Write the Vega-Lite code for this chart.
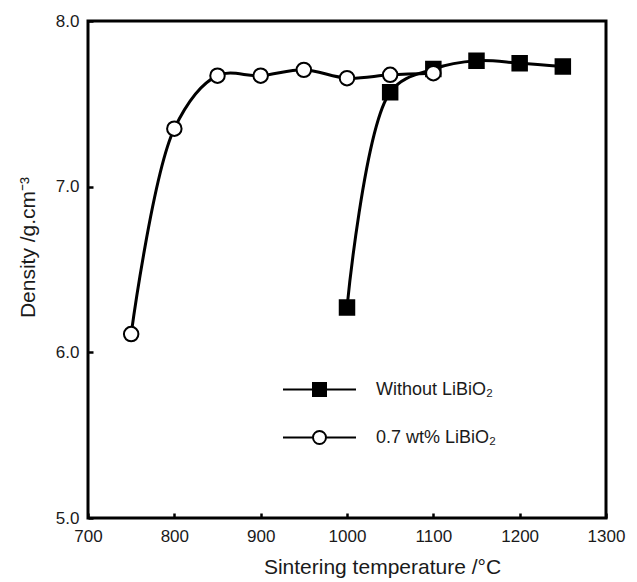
{
  "$schema": "https://vega.github.io/schema/vega-lite/v6.json",
  "width": 518,
  "height": 497,
  "autosize": {"type": "none"},
  "padding": {"left": 88, "top": 21, "right": 31, "bottom": 64},
  "background": "white",
  "config": {
    "view": {"stroke": "black", "strokeWidth": 3},
    "font": "Liberation Sans",
    "axis": {
      "domain": false,
      "grid": false,
      "tickColor": "black",
      "tickWidth": 2.5,
      "tickSize": -5,
      "labelColor": "#1a1a1a",
      "titleColor": "#1a1a1a",
      "labelFontSize": 17,
      "titleFontSize": 21,
      "titleFontWeight": "normal",
      "labelFont": "Liberation Sans",
      "titleFont": "Liberation Sans"
    }
  },
  "data": {
    "values": [
      {"series": "Without LiBiO₂", "temp": 1000, "density": 6.27},
      {"series": "Without LiBiO₂", "temp": 1050, "density": 7.57},
      {"series": "Without LiBiO₂", "temp": 1100, "density": 7.71},
      {"series": "Without LiBiO₂", "temp": 1150, "density": 7.76},
      {"series": "Without LiBiO₂", "temp": 1200, "density": 7.745},
      {"series": "Without LiBiO₂", "temp": 1250, "density": 7.725},
      {"series": "0.7 wt% LiBiO₂", "temp": 750, "density": 6.11},
      {"series": "0.7 wt% LiBiO₂", "temp": 800, "density": 7.35},
      {"series": "0.7 wt% LiBiO₂", "temp": 850, "density": 7.67},
      {"series": "0.7 wt% LiBiO₂", "temp": 900, "density": 7.67},
      {"series": "0.7 wt% LiBiO₂", "temp": 950, "density": 7.705},
      {"series": "0.7 wt% LiBiO₂", "temp": 1000, "density": 7.655},
      {"series": "0.7 wt% LiBiO₂", "temp": 1050, "density": 7.675},
      {"series": "0.7 wt% LiBiO₂", "temp": 1100, "density": 7.685}
    ]
  },
  "encoding": {
    "x": {
      "field": "temp", "type": "quantitative",
      "scale": {"domain": [700, 1300], "nice": false, "zero": false},
      "axis": {"values": [700, 800, 900, 1000, 1100, 1200, 1300], "format": "d", "labelPadding": 15, "title": "Sintering temperature /°C", "titlePadding": 12, "titleX": 294, "titleAlign": "center", "labelFlush": false}
    },
    "y": {
      "field": "density", "type": "quantitative",
      "scale": {"domain": [5, 8], "nice": false, "zero": false},
      "axis": {"values": [5, 6, 7, 8], "format": ".1f", "labelPadding": 14, "title": "Density /g.cm⁻³", "titlePadding": 17, "titleY": 226, "titleAlign": "center", "labelFlush": false}
    }
  },
  "layer": [
    {
      "mark": {"type": "line", "interpolate": "catmull-rom", "color": "black", "strokeWidth": 3},
      "encoding": {"detail": {"field": "series"}}
    },
    {
      "mark": {"type": "point", "filled": true, "stroke": "black", "strokeWidth": 2, "size": 210, "opacity": 1},
      "encoding": {
        "shape": {
          "field": "series", "type": "nominal",
          "scale": {"domain": ["Without LiBiO₂", "0.7 wt% LiBiO₂"], "range": ["square", "circle"]},
          "legend": null
        },
        "fill": {
          "field": "series", "type": "nominal",
          "scale": {"domain": ["Without LiBiO₂", "0.7 wt% LiBiO₂"], "range": ["black", "white"]},
          "legend": null
        }
      }
    },
    {
      "mark": {"type": "point", "filled": false, "color": "black", "strokeWidth": 2, "opacity": 0},
      "encoding": {
        "shape": {
          "field": "series", "type": "nominal",
          "scale": {"domain": ["Without LiBiO₂", "0.7 wt% LiBiO₂"], "range": ["M-1,0H-0.178M0.178,0H1M-0.178,-0.178H0.178V0.178H-0.178ZM-0.123,-0.123H0.123V0.123H-0.123ZM-0.068,-0.068H0.068V0.068H-0.068ZM-0.014,-0.014H0.014V0.014H-0.014Z", "M-1,0H-0.178M0.178,0H1M-0.178,0A0.178,0.178 0 1,0 0.178,0A0.178,0.178 0 1,0 -0.178,0Z"]},
          "legend": {
            "title": null,
            "orient": "none",
            "legendX": 194,
            "legendY": 331,
            "symbolSize": 5329,
            "symbolStrokeWidth": 2,
            "symbolStrokeColor": "black",
            "symbolOpacity": 1,
            "labelFontSize": 18,
            "labelColor": "#1a1a1a",
            "labelOffset": 19,
            "rowPadding": -34
          }
        }
      }
    }
  ],
  "resolve": {"scale": {"shape": "independent"}}
}
